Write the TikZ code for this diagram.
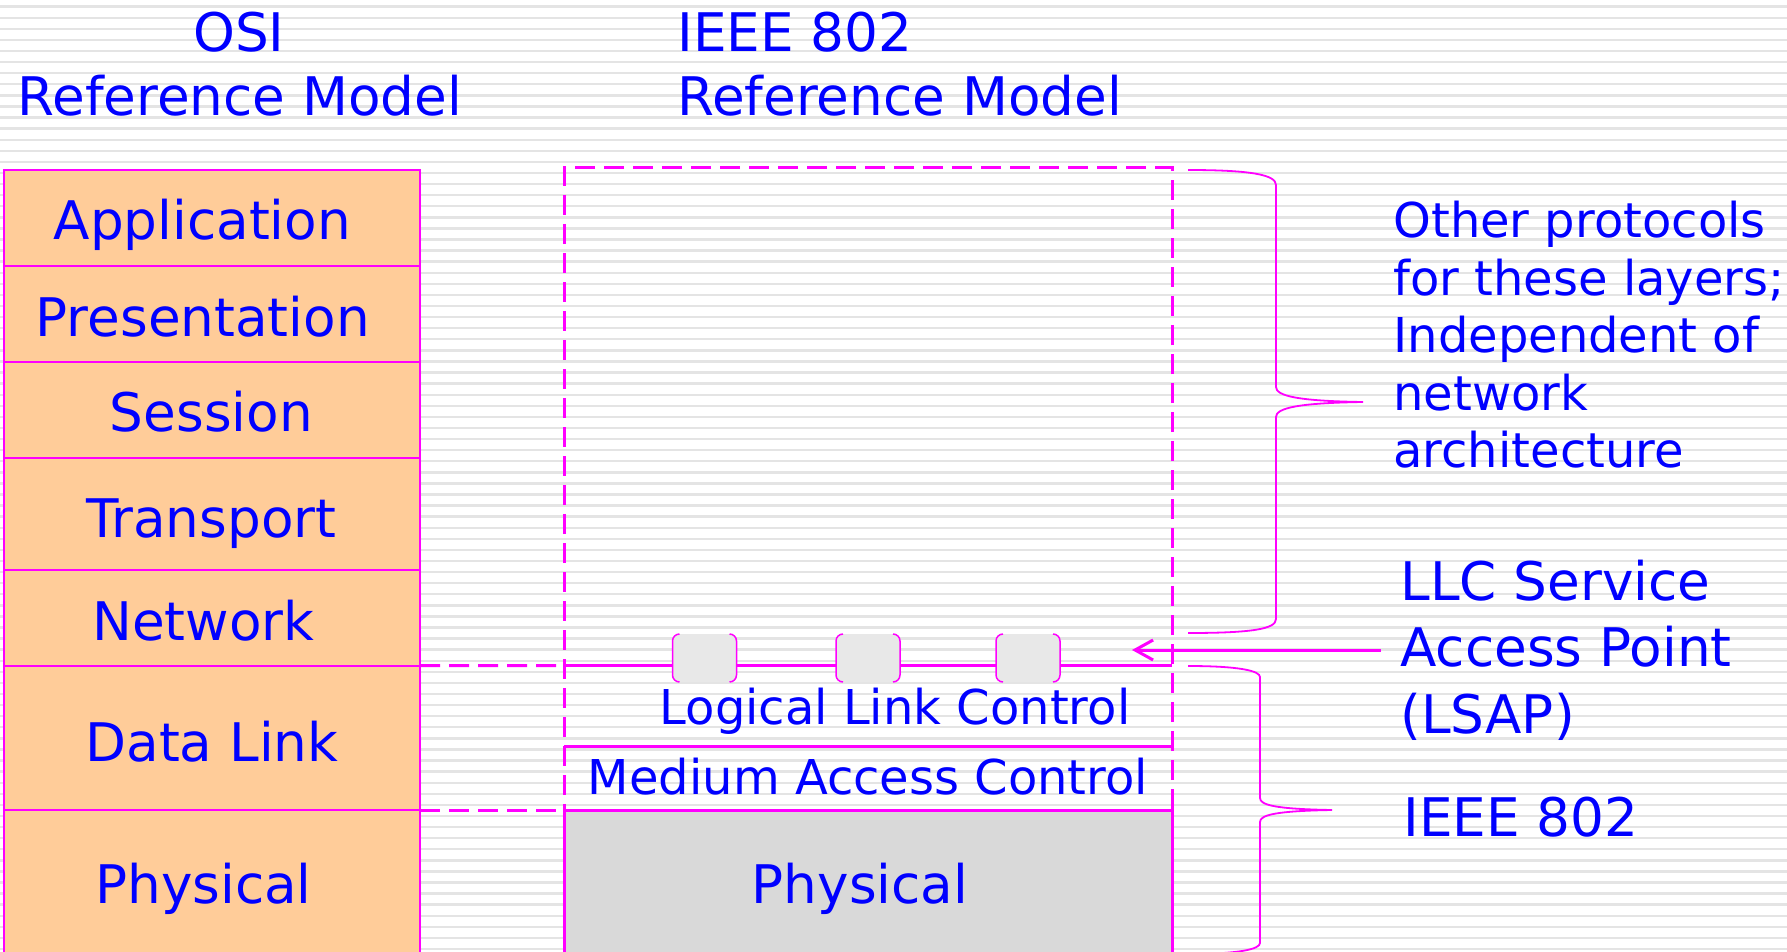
\documentclass[tikz,border=0pt]{standalone}
\usepackage{fontspec}
\setmainfont{DejaVu Sans}
\usetikzlibrary{arrows.meta}

\definecolor{osipeach}{RGB}{255,204,153}
\definecolor{linkmag}{RGB}{255,0,255}
\definecolor{labelblue}{RGB}{0,0,255}
\definecolor{phygrey}{RGB}{217,217,217}
\definecolor{sapgrey}{RGB}{232,232,232}
\definecolor{stripegrey}{RGB}{228,228,228}

\tikzset{
  stripe/.style={draw=stripegrey, line width=1.2pt},
  big/.style={font=\fontsize{26.6}{33.2}\selectfont, text=labelblue, inner sep=0pt},
  mid/.style={font=\fontsize{24}{28.7}\selectfont, text=labelblue, inner sep=0pt},
  osilayer/.style={draw=linkmag, line width=1pt, fill=osipeach,
    minimum width=208.25pt, inner sep=0pt, outer sep=0pt},
  dashedge/.style={draw=linkmag, line width=1.5pt, dash pattern=on 10pt off 4.5pt},
  solidedge/.style={draw=linkmag, line width=1.5pt},
  ieeeframe/.style={dashedge, inner sep=0pt, outer sep=0pt},
  phybox/.style={draw=linkmag, line width=1.5pt, fill=phygrey, inner sep=0pt, outer sep=0pt},
  sapbox/.style={fill=sapgrey, rounded corners=3.5pt, minimum width=32pt,
    minimum height=24pt, inner sep=0pt, outer sep=0pt},
  sapedge/.style={draw=linkmag, line width=0.75pt, rounded corners=3.5pt},
  bracestroke/.style={draw=linkmag, line width=0.9pt},
}

\begin{document}
\begin{tikzpicture}[x=0.5pt,y=-0.5pt]
\useasboundingbox (0,0) rectangle (1787,952);
\clip (0,0) rectangle (1787,952);

% ruled paper background
\fill[white] (0,0) rectangle (1787,952);
\foreach \k in {0,...,85}
  \draw[stripe] (0,{6.7+11.086*\k}) -- (1787,{6.7+11.086*\k});

% headings
\node[big, anchor=base] (osiHead) at (239,52) {OSI};
\node[big, anchor=base] (osiHeadB) at (240,116) {Reference Model};
\node[big, anchor=base west] (ieeeHead) at (677,52) {IEEE 802};
\node[big, anchor=base west] (ieeeHeadB) at (677,116) {Reference Model};

% OSI stack
\node[osilayer, minimum height=47.85pt] (app)  at (211.75,217.85) {};
\node[osilayer, minimum height=48.35pt] (pres) at (211.75,314.05) {};
\node[osilayer, minimum height=47.9pt]  (sess) at (211.75,410.3) {};
\node[osilayer, minimum height=55.85pt] (trans) at (211.75,514.05) {};
\node[osilayer, minimum height=47.9pt]  (net)  at (211.75,617.8) {};
\node[osilayer, minimum height=72.3pt]  (dl)   at (211.75,738.0) {};
\node[osilayer, minimum height=74.85pt] (phys) at (211.75,885.15) {};

\node[big, anchor=base] (appText)   at (202.3,240) {Application};
\node[big, anchor=base] (presText)  at (202.8,336) {Presentation};
\node[big, anchor=base] (sessText)  at (211.4,431) {Session};
\node[big, anchor=base] (transText) at (211.4,537) {Transport};
\node[big, anchor=base] (netText)   at (203.4,640) {Network};
\node[big, anchor=base] (dlText)    at (212,761) {Data Link};
\node[big, anchor=base] (physText)  at (203.4,903) {Physical};

% IEEE 802 stack
\node[ieeeframe, minimum width=304pt, minimum height=321pt] (ieee) at (868,489) {};
\coordinate (llcTW) at (564,665.7);
\coordinate (llcTE) at (1172,665.7);
\coordinate (llcBW) at (564,746);
\coordinate (llcBE) at (1172,746);
\draw[solidedge] (llcTW) -- (llcTE);
\draw[solidedge] (llcBW) -- (llcBE);
\node[phybox, minimum width=304pt, minimum height=75pt] (iphy) at (868,885.3) {};

\node[mid, anchor=base] (llcText) at (895,724) {Logical Link Control};
\node[mid, anchor=base] (macText) at (868,794) {Medium Access Control};
\node[big, anchor=base] (iphyText) at (860,903) {Physical};

% layer correspondence
\draw[dashedge] (dl.north east) -- (llcTW);
\draw[dashedge] (phys.north east) -- (iphy.north west);

% LLC service access points
\foreach \n/\cx in {sapA/704.5, sapB/868, sapC/1028}{
  \node[sapbox] (\n) at (\cx,658) {};
  \draw[sapedge] ([xshift=3.5pt]\n.north west) -- (\n.north west)
                 -- (\n.south west) -- ([xshift=3.5pt]\n.south west);
  \draw[sapedge] ([xshift=-3.5pt]\n.north east) -- (\n.north east)
                 -- (\n.south east) -- ([xshift=-3.5pt]\n.south east);
}

% LSAP pointer
\coordinate (lsapFrom) at (1381,650);
\coordinate (lsapTo) at (1132,650);
\draw[solidedge, -{Straight Barb[length=9pt,width=10pt]}] (lsapFrom) -- (lsapTo);

% braces
\draw[bracestroke] (1188,170) .. controls (1252,170) and (1276,175) .. (1276,185)
  -- (1276,387) .. controls (1276,396) and (1298,401) .. (1363,402)
  .. controls (1298,403) and (1276,408) .. (1276,417)
  -- (1276,619) .. controls (1276,629) and (1252,633) .. (1188,633);
\draw[bracestroke] (1188,666) .. controls (1240,666) and (1260,671) .. (1260,677)
  -- (1260,798) .. controls (1260,805) and (1275,809) .. (1332,810)
  .. controls (1275,811) and (1260,815) .. (1260,822)
  -- (1260,943) .. controls (1260,949) and (1240,954) .. (1188,954);

% side labels
\node[mid, anchor=north west, align=left] (otherText) at (1393,201)
  {Other protocols\\for these layers;\\Independent of\\network\\architecture};
\node[big, anchor=north west, align=left] (lsapText) at (1400,559.5)
  {LLC Service\\Access Point\\(LSAP)};
\node[big, anchor=base west] (ieeeSide) at (1403,836) {IEEE 802};
\end{tikzpicture}
\end{document}
